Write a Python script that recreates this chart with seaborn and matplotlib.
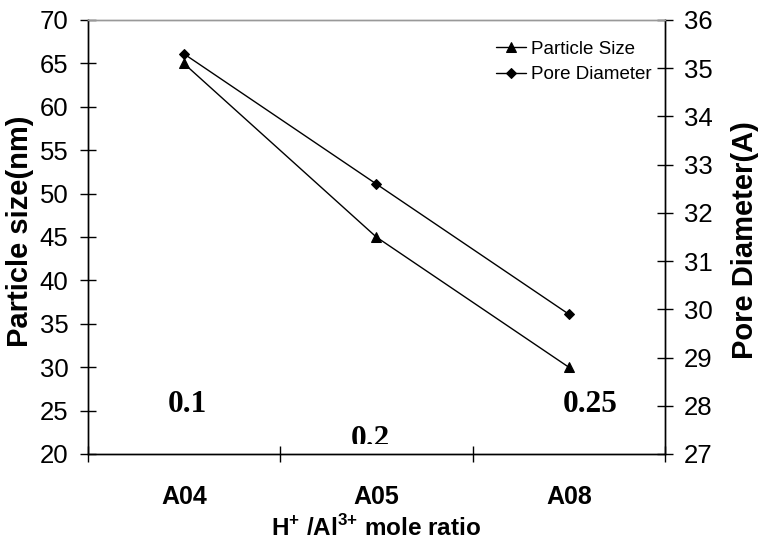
import matplotlib
matplotlib.use("Agg")
import matplotlib.pyplot as plt
import seaborn as sns
from matplotlib.patches import Rectangle

# data
samples = ["A04", "A05", "A08"]
particle_size = [65, 45, 30]
pore_diameter = [35.3, 32.6, 29.9]
ratio_labels = ["0.1", "0.2", "0.25"]

sns.set_style("ticks")
plt.rcParams["font.family"] = ["Liberation Sans", "DejaVu Sans"]
plt.rcParams["mathtext.fontset"] = "custom"
plt.rcParams["mathtext.rm"] = "Liberation Sans"
plt.rcParams["mathtext.bf"] = "Liberation Sans:bold"
for k in ["text.color", "axes.labelcolor", "xtick.color", "ytick.color", "axes.edgecolor"]:
    plt.rcParams[k] = "black"

fig = plt.figure(figsize=(7.58, 5.42), dpi=100)
ax = fig.add_axes([0.1155, 0.1624, 0.7618, 0.8007])

#left axis - particle size
sns.lineplot(x=samples, y=particle_size, ax=ax, color="black", linewidth=1,
             marker="^", markersize=7, markeredgecolor="black", label="Particle Size",
             legend=False)
ax.set_xlim(-0.5, 2.5)
ax.set_ylim(20, 70)
ax.set_yticks(range(20, 71, 5))
ax.tick_params(axis="y", direction="inout", length=11.5, width=1, labelsize=18.5, pad=8)

#right axis - pore diameter
ax2 = ax.twinx()
sns.lineplot(x=samples, y=pore_diameter, ax=ax2, color="black", linewidth=1,
             marker="D", markersize=5.5, markeredgecolor="black", label="Pore Diameter",
             legend=False)
ax2.set_ylim(27, 36)
ax2.set_yticks(range(27, 37))
ax2.tick_params(axis="y", direction="inout", length=11.5, width=1, labelsize=18.5, pad=8)

#x ticks at category borders, labels in the middle
ax.set_xticks([-0.5, 0.5, 1.5, 2.5])
ax.set_xticklabels([])
ax.tick_params(axis="x", which="major", direction="inout", length=11.5, width=1)
ax.set_xticks([0, 1, 2], minor=True)
ax.set_xticklabels(samples, minor=True, fontsize=18, fontweight="bold")
ax.tick_params(axis="x", which="minor", length=0, pad=22)

for a in (ax, ax2):
    for s in a.spines.values():
        s.set_color("black")
        s.set_linewidth(1)
    a.spines["top"].set_color("#999999")

ax.set_ylabel("Particle size(nm)", fontsize=21, fontweight="bold")
ax.yaxis.set_label_coords(-0.092, 0.514)
ax2.set_ylabel("Pore Diameter(A)", fontsize=21, fontweight="bold")
ax2.yaxis.set_label_coords(1.114, 0.493)
ax.set_xlabel(r"H$^\mathbf{+}$ /Al$^{\mathbf{3}\mathbf{+}}$ mole ratio", fontsize=17.5,
              fontweight="bold", labelpad=5)

#ratio annotations in bold serif, the middle one is cut by the plot edge
clip = Rectangle((0, 0.023), 1, 1, transform=ax.transAxes, visible=False)
ax.add_patch(clip)
pos = [(0.02, 24.84), (0.97, 20.8), (2.11, 24.84)]
for (px, py), t in zip(pos, ratio_labels):
    txt = ax.text(px, py, t, ha="center", va="baseline", fontsize=22.5, fontweight="bold",
                  family=["Liberation Serif", "DejaVu Serif"], clip_on=True)
    txt.set_clip_path(clip)

h1, l1 = ax.get_legend_handles_labels()
h2, l2 = ax2.get_legend_handles_labels()
ax2.legend(h1 + h2, l1 + l2, loc="upper right", bbox_to_anchor=(0.977, 0.953),
           frameon=False, fontsize=13.5, handlelength=1.6, handletextpad=0.27,
           labelspacing=0.45, borderaxespad=0, borderpad=0)

fig.savefig("out.png", dpi=100)
